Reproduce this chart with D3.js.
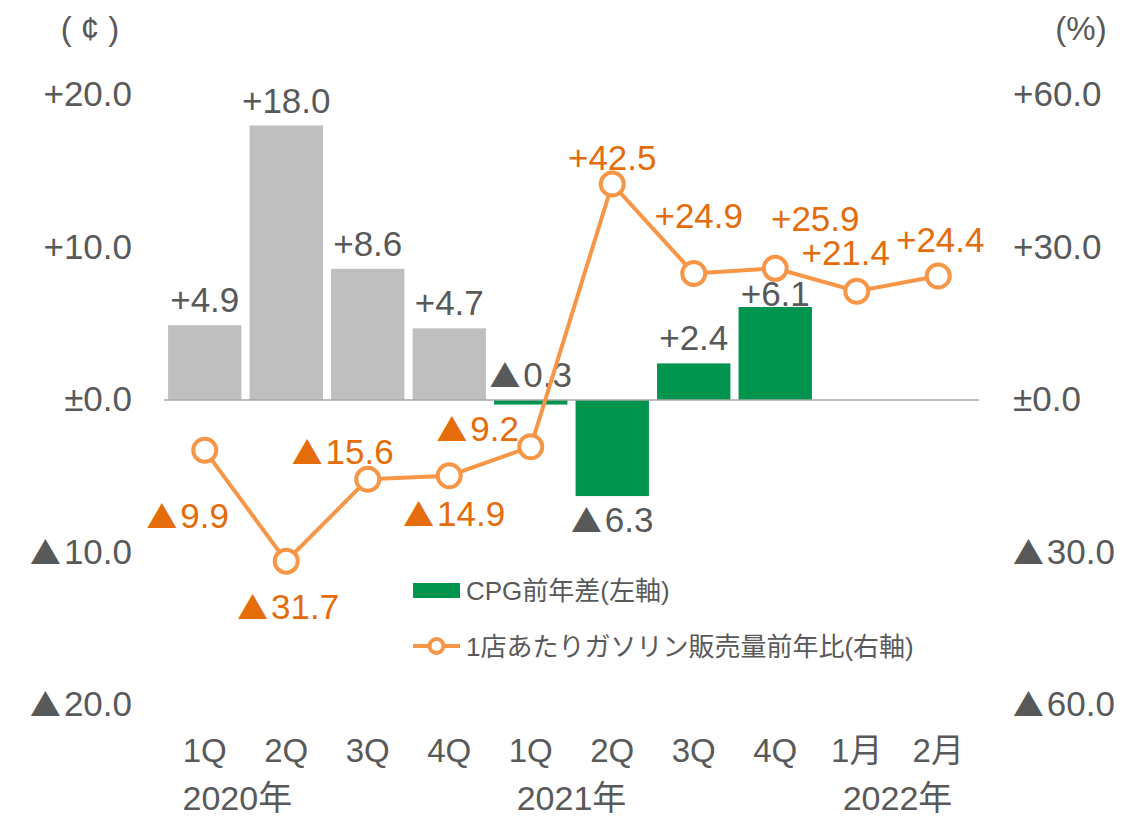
<!DOCTYPE html>
<html>
<head>
<meta charset="utf-8">
<script src="https://cdn.jsdelivr.net/npm/d3@7"></script>
<style>
  body { margin: 0; background: #fff; }
  svg text { font-family: "Liberation Sans", Arial, "Noto Sans CJK JP", sans-serif; fill: #595959; }
  svg text tspan.tri { font-family: "Noto Sans CJK JP", sans-serif; font-size: 0.88em; }
</style>
</head>
<body>
<div id="chart"></div>
<script>
// data
const categories = ["1Q", "2Q", "3Q", "4Q", "1Q", "2Q", "3Q", "4Q", "1月", "2月"];
const years = [{label: "2020年", at: 0.4}, {label: "2021年", at: 4.5}, {label: "2022年", at: 8.5}];
const cpgDiff = [4.9, 18.0, 8.6, 4.7, -0.3, -6.3, 2.4, 6.1, null, null];   // ¢, left axis
const gasVolume = [-9.9, -31.7, -15.6, -14.9, -9.2, 42.5, 24.9, 25.9, 21.4, 24.4]; // %, right axis
const leftTicks = [20, 10, 0, -10, -20];
const rightTicks = [60, 30, 0, -30, -60];

// label placement relative to the point: [dx, baseline dy]
const lineLabelOffset = [[-17, 78], [2, 58], [-25, -15], [5, 50], [-53, -6], [0, -14], [5, -45], [40, -37], [-11, -26], [2, -24]];
const barLabelShift = [0, 0, 0, 0, 0, 0, 0, 12, 0, 0];

const W = 1148, H = 818;
const plot = {left: 164, right: 979, top: 95, bottom: 705};

const svg = d3.select("#chart").append("svg")
    .attr("width", W)
    .attr("height", H);

const x = d3.scaleBand()
    .domain(d3.range(categories.length))
    .range([plot.left, plot.right])
    .paddingInner(0.1)
    .paddingOuter(0.05);

const yL = d3.scaleLinear().domain([-20, 20]).range([plot.bottom, plot.top]);
const yR = d3.scaleLinear().domain([-60, 60]).range([plot.bottom, plot.top]);

// "▲" marks negative numbers, drawn with a CJK font so it is full size
function writeValue(textSel) {
  textSel.each(function(v) {
    const t = d3.select(this).text("");
    if (v < 0) {
      t.append("tspan").attr("class", "tri").text("▲");
      t.append("tspan").attr("dx", 3).text(Math.abs(v).toFixed(1));
    } else {
      t.append("tspan").text(v === 0 ? "±0.0" : "+" + v.toFixed(1));
    }
  });
}

const gray = "#BFBFBF", green = "#00954F", orange = "#F79646", orangeText = "#E46C0A";
const fs = 35;

// left axis
const axL = svg.append("g")
    .attr("transform", `translate(${plot.left},0)`)
    .call(d3.axisLeft(yL).tickValues(leftTicks).tickSize(0).tickPadding(32));
axL.select(".domain").remove();
axL.selectAll("text").style("font-size", fs + "px").attr("dy", "0.3em").call(writeValue);

// right axis
const axR = svg.append("g")
    .attr("transform", `translate(${plot.right},0)`)
    .call(d3.axisRight(yR).tickValues(rightTicks).tickSize(0).tickPadding(34));
axR.select(".domain").remove();
axR.selectAll("text").style("font-size", fs + "px").attr("dy", "0.3em").call(writeValue);

// units
svg.append("text").attr("x", 90).attr("y", 40).attr("text-anchor", "middle")
  .style("font-size", "33px").text("( ¢ )");
svg.append("text").attr("x", 1081).attr("y", 40).attr("text-anchor", "middle")
  .style("font-size", "33px").text("(%)");

// bars
const barData = cpgDiff.map((v, i) => ({i, v})).filter(d => d.v !== null);
svg.append("g")
  .selectAll("rect")
  .data(barData)
  .join("rect")
    .attr("x", d => x(d.i))
    .attr("y", d => yL(Math.max(0, d.v)))
    .attr("width", x.bandwidth())
    .attr("height", d => Math.abs(yL(d.v) - yL(0)))
    .attr("fill", d => d.i < 4 ? gray : green);

// zero line
svg.append("line")
    .attr("x1", plot.left).attr("x2", plot.right)
    .attr("y1", yL(0)).attr("y2", yL(0))
    .attr("stroke", "#A6A6A6").attr("stroke-width", 1.5);

// bar labels
svg.append("g")
  .selectAll("text")
  .data(barData)
  .join("text")
    .attr("x", d => x(d.i) + x.bandwidth() / 2)
    .attr("y", d => (d.v >= -1 ? yL(Math.max(0, d.v)) - 13 : yL(d.v) + 36) + barLabelShift[d.i])
    .attr("text-anchor", "middle")
    .style("font-size", fs + "px")
    .datum(d => d.v)
    .call(writeValue);

// line
const cx = i => x(i) + x.bandwidth() / 2;
svg.append("path")
    .datum(gasVolume)
    .attr("fill", "none")
    .attr("stroke", orange)
    .attr("stroke-width", 4)
    .attr("d", d3.line().x((d, i) => cx(i)).y(d => yR(d)));

svg.append("g")
  .selectAll("circle")
  .data(gasVolume)
  .join("circle")
    .attr("cx", (d, i) => cx(i))
    .attr("cy", d => yR(d))
    .attr("r", 11.5)
    .attr("fill", "#fff")
    .attr("stroke", orange)
    .attr("stroke-width", 4);

svg.append("g")
  .selectAll("text")
  .data(gasVolume)
  .join("text")
    .attr("x", (d, i) => cx(i) + lineLabelOffset[i][0])
    .attr("y", (d, i) => yR(d) + lineLabelOffset[i][1])
    .attr("text-anchor", "middle")
    .style("font-size", fs + "px")
    .style("fill", orangeText)
    .call(writeValue);

// x axis labels
svg.append("g")
  .selectAll("text")
  .data(categories)
  .join("text")
    .attr("x", (d, i) => cx(i))
    .attr("y", 762)
    .attr("text-anchor", "middle")
    .style("font-size", "33px")
    .text(d => d);

svg.append("g")
  .selectAll("text")
  .data(years)
  .join("text")
    .attr("x", d => x(0) + x.step() * d.at + x.bandwidth() / 2)
    .attr("y", 810)
    .attr("text-anchor", "middle")
    .style("font-size", "34px")
    .text(d => d.label);

// legend
const lg = svg.append("g").attr("transform", "translate(413,590)");
lg.append("rect").attr("x", 0).attr("y", -7).attr("width", 47).attr("height", 15).attr("fill", green);
lg.append("text").attr("x", 53).attr("y", 10).style("font-size", "26px").text("CPG前年差(左軸)");
lg.append("line").attr("x1", 0).attr("x2", 47).attr("y1", 56).attr("y2", 56)
  .attr("stroke", orange).attr("stroke-width", 4);
lg.append("circle").attr("cx", 23.5).attr("cy", 56).attr("r", 7)
  .attr("fill", "#fff").attr("stroke", orange).attr("stroke-width", 4);
lg.append("text").attr("x", 53).attr("y", 66).style("font-size", "26px").text("1店あたりガソリン販売量前年比(右軸)");
</script>
</body>
</html>
